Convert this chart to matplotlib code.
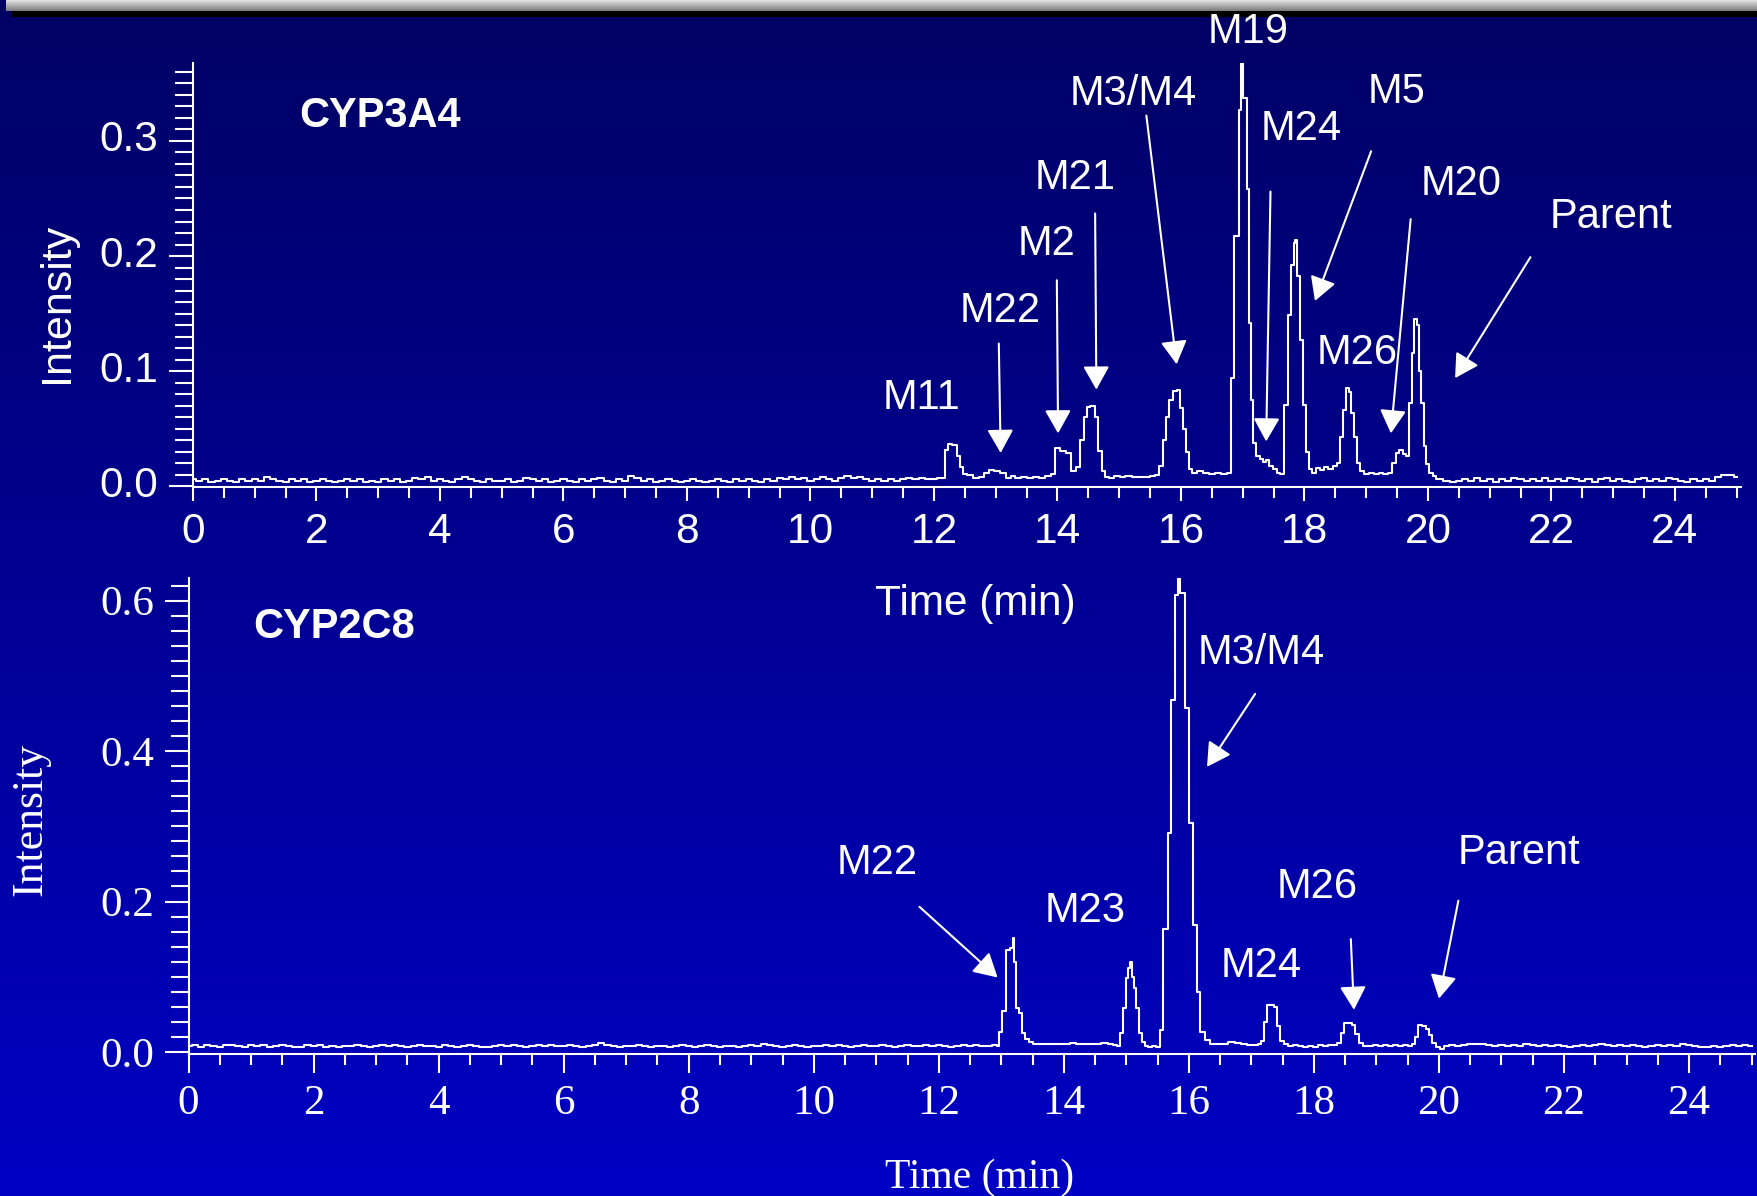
import numpy as np
import matplotlib
matplotlib.use("Agg")
import matplotlib.pyplot as plt
from matplotlib.colors import LinearSegmentedColormap
from matplotlib.ticker import MultipleLocator, FormatStrFormatter
from matplotlib.transforms import ScaledTranslation

plt.rcParams['font.family'] = ['Liberation Sans', 'DejaVu Sans']

# ---- CYP3A4 trace (top) ----
# flat noisy baseline 0.0 .. 12.1 min, 0.1 min apart
top_noise_a = [0.006, 0.005, 0.006, 0.004, 0.005, 0.006, 0.005, 0.004, 0.006, 0.005,
               0.006, 0.005, 0.008, 0.006, 0.005, 0.004, 0.006, 0.005, 0.006, 0.004,
               0.005, 0.006, 0.005, 0.004, 0.005, 0.006, 0.005, 0.006, 0.004, 0.005,
               0.004, 0.006, 0.005, 0.006, 0.004, 0.005, 0.007, 0.006, 0.008, 0.005,
               0.006, 0.005, 0.004, 0.006, 0.008, 0.006, 0.005, 0.004, 0.006, 0.005,
               0.005, 0.006, 0.004, 0.005, 0.007, 0.006, 0.005, 0.006, 0.004, 0.005,
               0.006, 0.005, 0.004, 0.006, 0.005, 0.006, 0.007, 0.005, 0.004, 0.006,
               0.005, 0.009, 0.007, 0.005, 0.006, 0.004, 0.005, 0.006, 0.005, 0.004,
               0.005, 0.006, 0.005, 0.004, 0.005, 0.006, 0.005, 0.004, 0.006, 0.005,
               0.006, 0.005, 0.004, 0.006, 0.005, 0.007, 0.006, 0.008, 0.006, 0.007,
               0.005, 0.006, 0.008, 0.006, 0.005, 0.007, 0.009, 0.007, 0.008, 0.006,
               0.005, 0.006, 0.005, 0.006, 0.005, 0.006, 0.007, 0.006, 0.007, 0.006,
               0.006, 0.007]
# peak region
top_peak_t = [12.15, 12.21, 12.26, 12.34, 12.39, 12.45, 12.50, 12.58, 12.69, 12.78,
              12.85, 12.93, 13.02, 13.12, 13.20, 13.28, 13.36, 13.45, 13.55, 13.65,
              13.75, 13.85, 13.93, 13.99, 14.09, 14.18, 14.26, 14.33, 14.40, 14.45,
              14.50, 14.57, 14.63, 14.69, 14.74, 14.80, 14.88, 14.96, 15.05, 15.15,
              15.25, 15.35, 15.45, 15.55, 15.62, 15.68, 15.73, 15.78, 15.84, 15.90,
              15.96, 16.01, 16.06, 16.11, 16.16, 16.21, 16.30, 16.40, 16.50, 16.60,
              16.70, 16.79, 16.84, 16.88, 16.93, 16.96, 16.99, 17.02, 17.05, 17.08,
              17.12, 17.14, 17.19, 17.25, 17.30, 17.36, 17.40, 17.45, 17.52, 17.58,
              17.63, 17.70, 17.76, 17.81, 17.84, 17.87, 17.90, 17.95, 18.00, 18.05,
              18.10, 18.15, 18.22, 18.28, 18.35, 18.42, 18.50, 18.55, 18.60, 18.65,
              18.70, 18.73, 18.77, 18.82, 18.87, 18.93, 19.00, 19.08, 19.16, 19.24,
              19.32, 19.40, 19.45, 19.50, 19.56, 19.62, 19.67, 19.71, 19.76, 19.80,
              19.84, 19.88, 19.91, 19.95, 20.00, 20.05, 20.10, 20.15]
top_peak_i = [0.007, 0.032, 0.037, 0.036, 0.026, 0.017, 0.011, 0.010, 0.007, 0.008,
              0.012, 0.014, 0.013, 0.012, 0.007, 0.009, 0.007, 0.008, 0.007, 0.008,
              0.007, 0.009, 0.011, 0.033, 0.031, 0.029, 0.013, 0.017, 0.040, 0.060,
              0.069, 0.070, 0.060, 0.031, 0.013, 0.008, 0.007, 0.009, 0.008, 0.009,
              0.008, 0.008, 0.008, 0.009, 0.010, 0.018, 0.040, 0.060, 0.075, 0.083,
              0.084, 0.068, 0.050, 0.030, 0.015, 0.012, 0.013, 0.012, 0.011, 0.012,
              0.011, 0.012, 0.094, 0.217, 0.217, 0.327, 0.369, 0.337, 0.337, 0.258,
              0.142, 0.075, 0.038, 0.026, 0.024, 0.021, 0.023, 0.018, 0.015, 0.012,
              0.011, 0.071, 0.149, 0.192, 0.211, 0.214, 0.183, 0.127, 0.071, 0.030,
              0.015, 0.012, 0.016, 0.014, 0.017, 0.015, 0.018, 0.020, 0.043, 0.066,
              0.085, 0.082, 0.064, 0.043, 0.020, 0.013, 0.011, 0.012, 0.011, 0.012,
              0.011, 0.012, 0.020, 0.029, 0.032, 0.028, 0.026, 0.072, 0.116, 0.145,
              0.140, 0.100, 0.072, 0.035, 0.019, 0.012, 0.009, 0.006]
# tail 20.2 .. 25.0 min
top_noise_b = [0.006, 0.005, 0.004, 0.005, 0.006, 0.005, 0.007, 0.005, 0.006, 0.004,
               0.006, 0.005, 0.007, 0.006, 0.005, 0.006, 0.005, 0.007, 0.005, 0.006,
               0.005, 0.007, 0.006, 0.005, 0.006, 0.004, 0.006, 0.007, 0.005, 0.006,
               0.005, 0.004, 0.006, 0.007, 0.005, 0.006, 0.005, 0.007, 0.006, 0.005,
               0.004, 0.006, 0.005, 0.006, 0.005, 0.008, 0.010, 0.010, 0.008]

# ---- CYP2C8 trace (bottom) ----
bot_noise_a = [0.008, 0.009, 0.007, 0.009, 0.008, 0.006, 0.009, 0.009, 0.008, 0.007,
               0.009, 0.008, 0.009, 0.007, 0.008, 0.009, 0.008, 0.006, 0.007, 0.009,
               0.008, 0.009, 0.007, 0.008, 0.006, 0.008, 0.008, 0.009, 0.008, 0.007,
               0.008, 0.009, 0.008, 0.009, 0.008, 0.007, 0.008, 0.009, 0.008, 0.008,
               0.007, 0.009, 0.008, 0.007, 0.008, 0.009, 0.008, 0.007, 0.006, 0.008,
               0.009, 0.008, 0.009, 0.008, 0.007, 0.008, 0.009, 0.008, 0.009, 0.008,
               0.008, 0.009, 0.008, 0.007, 0.008, 0.009, 0.012, 0.009, 0.008, 0.007,
               0.008, 0.008, 0.009, 0.008, 0.007, 0.008, 0.008, 0.007, 0.008, 0.009,
               0.008, 0.007, 0.008, 0.009, 0.008, 0.007, 0.008, 0.008, 0.007, 0.008,
               0.009, 0.008, 0.011, 0.009, 0.008, 0.007, 0.008, 0.009, 0.008, 0.007,
               0.008, 0.008, 0.009, 0.008, 0.009, 0.008, 0.007, 0.008, 0.009, 0.008,
               0.008, 0.009, 0.008, 0.007, 0.008, 0.009, 0.008, 0.008, 0.009, 0.008,
               0.009, 0.008, 0.007, 0.008, 0.009, 0.008, 0.009, 0.008, 0.008, 0.009]
bot_peak_t = [12.95, 12.98, 13.04, 13.10, 13.17, 13.19, 13.22, 13.26, 13.31, 13.36,
              13.41, 13.46, 13.55, 13.65, 13.75, 13.85, 13.95, 14.05, 14.15, 14.25,
              14.35, 14.45, 14.55, 14.65, 14.75, 14.82, 14.88, 14.93, 14.97, 15.01,
              15.05, 15.08, 15.11, 15.14, 15.18, 15.22, 15.27, 15.32, 15.38, 15.44,
              15.50, 15.56, 15.62, 15.70, 15.74, 15.81, 15.84, 15.87, 15.92, 15.97,
              16.03, 16.10, 16.15, 16.21, 16.29, 16.38, 16.48, 16.58, 16.68, 16.78,
              16.88, 16.98, 17.08, 17.14, 17.17, 17.22, 17.28, 17.34, 17.38, 17.43,
              17.49, 17.55, 17.62, 17.70, 17.78, 17.86, 17.94, 18.02, 18.10, 18.18,
              18.26, 18.34, 18.40, 18.45, 18.52, 18.58, 18.63, 18.69, 18.75, 18.82,
              18.90, 18.98, 19.06, 19.14, 19.22, 19.30, 19.38, 19.46, 19.54, 19.60,
              19.64, 19.70, 19.76, 19.81, 19.86, 19.92, 19.98, 20.05, 20.12]
bot_peak_i = [0.008, 0.027, 0.054, 0.136, 0.138, 0.152, 0.120, 0.058, 0.052, 0.025,
              0.017, 0.013, 0.011, 0.010, 0.011, 0.010, 0.011, 0.011, 0.012, 0.011,
              0.011, 0.011, 0.011, 0.012, 0.011, 0.009, 0.008, 0.025, 0.058, 0.098,
              0.111, 0.120, 0.100, 0.085, 0.058, 0.025, 0.013, 0.008, 0.007, 0.008,
              0.007, 0.029, 0.164, 0.291, 0.468, 0.608, 0.630, 0.610, 0.610, 0.457,
              0.304, 0.169, 0.080, 0.027, 0.016, 0.011, 0.010, 0.011, 0.013, 0.012,
              0.010, 0.009, 0.009, 0.010, 0.014, 0.040, 0.062, 0.063, 0.060, 0.034,
              0.014, 0.010, 0.008, 0.009, 0.008, 0.007, 0.008, 0.007, 0.009, 0.008,
              0.009, 0.009, 0.012, 0.025, 0.039, 0.039, 0.036, 0.024, 0.012, 0.008,
              0.008, 0.009, 0.008, 0.009, 0.008, 0.009, 0.008, 0.009, 0.008, 0.010,
              0.020, 0.036, 0.035, 0.031, 0.022, 0.012, 0.007, 0.004, 0.008]
bot_noise_b = [0.009, 0.008, 0.009, 0.010, 0.011, 0.010, 0.009, 0.008, 0.009, 0.008,
               0.009, 0.008, 0.010, 0.009, 0.008, 0.009, 0.008, 0.009, 0.008, 0.007,
               0.008, 0.009, 0.008, 0.009, 0.010, 0.009, 0.008, 0.009, 0.008, 0.009,
               0.008, 0.007, 0.008, 0.009, 0.008, 0.009, 0.008, 0.010, 0.009, 0.008,
               0.007, 0.006, 0.008, 0.007, 0.008, 0.009, 0.008, 0.009, 0.008]

# annotations: label, label position, arrow tail, arrow tip (None = no arrow)
top_labels = [('M11', (11.80, 0.080), None, None),
              ('M22', (13.07, 0.156), (13.05, 0.124), (13.08, 0.029)),
              ('M2', (13.82, 0.214), (13.99, 0.179), (14.01, 0.046)),
              ('M21', (14.28, 0.271), (14.61, 0.237), (14.63, 0.084)),
              ('M3/M4', (15.22, 0.344), (15.44, 0.322), (15.93, 0.106)),
              ('M19', (17.08, 0.398), None, None),
              ('M24', (17.95, 0.314), (17.45, 0.256), (17.38, 0.039)),
              ('M5', (19.49, 0.346), (19.08, 0.291), (18.17, 0.161)),
              ('M20', (20.53, 0.266), (19.72, 0.232), (19.40, 0.046)),
              ('M26', (18.85, 0.119), None, None),
              ('Parent', (22.96, 0.237), (21.66, 0.199), (20.44, 0.094))]
bot_labels = [('M22', (11.01, 0.257), (11.69, 0.193), (12.94, 0.099)),
              ('M23', (14.34, 0.193), None, None),
              ('M3/M4', (17.16, 0.536), (17.06, 0.476), (16.29, 0.379)),
              ('M24', (17.16, 0.120), None, None),
              ('M26', (18.05, 0.225), (18.59, 0.150), (18.64, 0.056)),
              ('Parent', (21.28, 0.270), (20.31, 0.201), (20.00, 0.071))]

W, H = 1758, 1196
fig = plt.figure(figsize=(W / 100, H / 100), dpi=100)

# blue gradient background
bg = fig.add_axes([0, 0, 1, 1], zorder=-10)
blue = LinearSegmentedColormap.from_list('bl', ['#0000c4', '#000064'])
bg.imshow(np.linspace(0, 1, 256).reshape(-1, 1), aspect='auto', cmap=blue,
          extent=[0, 1, 0, 1], origin='lower')
bg.axis('off')
# grey bar + black shadow at the top
bar = fig.add_axes([6 / W, 1 - 11 / H, 1 - 6 / W, 11 / H], zorder=-9)
grey = LinearSegmentedColormap.from_list('gr', ['#7a7a7a', '#e4e4e4'])
bar.imshow(np.linspace(0, 1, 32).reshape(-1, 1), aspect='auto', cmap=grey,
           extent=[0, 1, 0, 1], origin='lower')
bar.axis('off')
shadow = fig.add_axes([12 / W, 1 - 17 / H, 1 - 12 / W, 6 / H], zorder=-9)
shadow.set_facecolor('black')
shadow.set_xticks([])
shadow.set_yticks([])
for s in shadow.spines.values():
    s.set_visible(False)


def style_axis(ax, serif, ymajor, yminor, xmaj_len, size):
    ax.set_facecolor('none')
    for side in ['top', 'right']:
        ax.spines[side].set_visible(False)
    for side in ['left', 'bottom']:
        ax.spines[side].set_color('white')
        ax.spines[side].set_linewidth(1.5)
    ax.xaxis.set_major_locator(MultipleLocator(2))
    ax.xaxis.set_minor_locator(MultipleLocator(0.5))
    ax.yaxis.set_major_locator(MultipleLocator(ymajor))
    ax.yaxis.set_minor_locator(MultipleLocator(yminor))
    ax.yaxis.set_major_formatter(FormatStrFormatter('%.1f'))
    fam = 'Liberation Serif' if serif else 'Liberation Sans'
    ax.tick_params(which='both', direction='out', color='white', width=1.5,
                   labelcolor='white', labelsize=size, labelfontfamily=fam)
    ax.tick_params(axis='y', which='major', length=17, pad=8)
    ax.tick_params(axis='y', which='minor', length=13)
    ax.tick_params(axis='x', which='major', length=xmaj_len, pad=8)
    ax.tick_params(axis='x', which='minor', length=8)


def add_labels(ax, labels):
    down = ax.transData + ScaledTranslation(0, -0.04, fig.dpi_scale_trans)
    for name, pos, tail, tip in labels:
        ax.text(pos[0], pos[1], name, color='white', fontsize=30,
                ha='center', va='center', clip_on=False, transform=down)
        if tip is not None:
            ax.annotate('', xy=tip, xytext=tail,
                        arrowprops=dict(arrowstyle='-|>,head_length=0.8,head_width=0.45',
                                        color='white', lw=1.5, shrinkA=0, shrinkB=0,
                                        mutation_scale=18))


# ---- top panel ----
ax1 = fig.add_axes([193 / W, 1 - 487.5 / H, 1548 / W, (487.5 - 62.6) / H])
t_a = np.round(np.arange(len(top_noise_a)) * 0.1, 2)
t_b = np.round(20.2 + np.arange(len(top_noise_b)) * 0.1, 2)
t1 = np.concatenate([t_a, top_peak_t, t_b])
y1 = np.concatenate([top_noise_a, top_peak_i, top_noise_b])
ax1.plot(t1, y1, color='white', lw=1.5, drawstyle='steps-mid')
ax1.set_xlim(0, 25.07)
ax1.set_ylim(-0.001, 0.368)
style_axis(ax1, False, 0.1, 0.01, 10, 30.5)
# the y labels of this panel sit a little above their ticks
up = ScaledTranslation(0, 0.05, fig.dpi_scale_trans)
for lab in ax1.get_yticklabels():
    lab.set_transform(lab.get_transform() + up)
ax1.text(3.03, 0.322, 'CYP3A4', color='white', fontsize=30, fontweight='bold',
         ha='center', va='center')
add_labels(ax1, top_labels)

# ---- bottom panel ----
ax2 = fig.add_axes([188.6 / W, 1 - 1054 / H, (1754.7 - 188.6) / W, (1054 - 578) / H])
s_a = np.round(np.arange(len(bot_noise_a)) * 0.1, 2)
s_b = np.round(20.2 + np.arange(len(bot_noise_b)) * 0.1, 2)
t2 = np.concatenate([s_a, bot_peak_t, s_b])
y2 = np.concatenate([bot_noise_a, bot_peak_i, bot_noise_b])
ax2.plot(t2, y2, color='white', lw=1.5, drawstyle='steps-mid')
ax2.set_xlim(0, 25.05)
ax2.set_ylim(-0.0027, 0.630)
style_axis(ax2, True, 0.2, 0.02, 14, 31)
ax2.text(2.32, 0.565, 'CYP2C8', color='white', fontsize=30, fontweight='bold',
         ha='center', va='center')
add_labels(ax2, bot_labels)

# axis titles
fig.text(57.4 / W, 1 - 302.6 / H, 'Intensity', rotation=90, color='white',
         fontsize=31, ha='center', va='center')
fig.text(975 / W, 1 - 604.5 / H, 'Time (min)', color='white',
         fontsize=30.5, ha='center', va='center')
fig.text(30 / W, 1 - 819.6 / H, 'Intensity', rotation=90, color='white',
         fontsize=31.5, ha='center', va='center', family='Liberation Serif')
fig.text(980 / W, 1 - 1178 / H, 'Time (min)', color='white',
         fontsize=30, ha='center', va='center', family='Liberation Serif')

fig.savefig('out.png', dpi=100)
